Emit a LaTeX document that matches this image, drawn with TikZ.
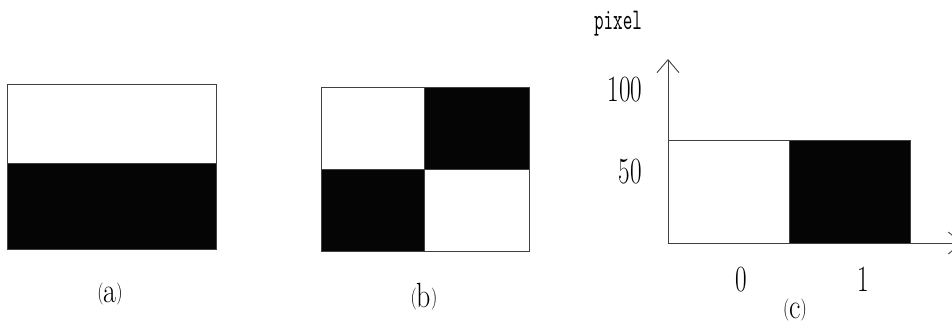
\documentclass[tikz,border=0pt]{standalone}
\usepackage{fontspec}
\usetikzlibrary{arrows.meta}
\newcommand{\mycapt}[1]{{\fontsize{22}{22}\selectfont\raisebox{3pt}{(}}{\fontsize{35}{35}\selectfont #1}{\fontsize{22}{22}\selectfont\raisebox{3pt}{)}}}
\begin{document}
\begin{tikzpicture}[x=1pt,y=-1pt,
  blk/.style={fill=black!98,draw=black!75,line width=0.9pt},
  wht/.style={fill=white,draw=black!75,line width=0.9pt},
  axis/.style={draw=black!75,line width=0.9pt,-{Straight Barb[length=13pt,width=22pt,line width=0.9pt]}},
  num/.style={inner sep=0pt,font=\fontsize{37}{37}\selectfont,xscale=0.68},
  caplbl/.style={inner sep=0pt,anchor=base,xscale=0.8},
  mono/.style={inner sep=0pt,font=\ttfamily\fontsize{30}{30}\selectfont,anchor=base,xscale=0.62}]
\useasboundingbox (0,0) rectangle (952,324);
\clip (0,0) rectangle (952,324);
% (a)
\path[wht] (7,84) rectangle (216,163);
\path[blk] (7,163) rectangle (216,249);
\node[caplbl] (la) at (110,302) {\mycapt{a}};
% (b)
\path[wht] (321,87) rectangle (424,169);
\path[blk] (424,87) rectangle (529,169);
\path[blk] (321,169) rectangle (424,251);
\path[wht] (424,169) rectangle (529,251);
\node[caplbl] (lb) at (424,307) {\mycapt{b}};
% (c)
\coordinate (o) at (668,243);
\coordinate (ytop) at (668,59);
\coordinate (xend) at (962,243);
\path[wht] (668,140) rectangle (789,243);
\path[blk] (789,140) rectangle (910,243);
\draw[axis] (o) -- (ytop);
\draw[axis] (o) -- (xend);
\node[mono] (pix) at (618,29) {pixel};
\node[num] (n100) at (625,90) {100};
\node[num] (n50) at (630,172) {50};
\node[num] (n0) at (741,280) {0};
\node[num] (n1) at (863,279) {1};
\node[caplbl] (lc) at (795,318) {\mycapt{c}};
\end{tikzpicture}
\end{document}
